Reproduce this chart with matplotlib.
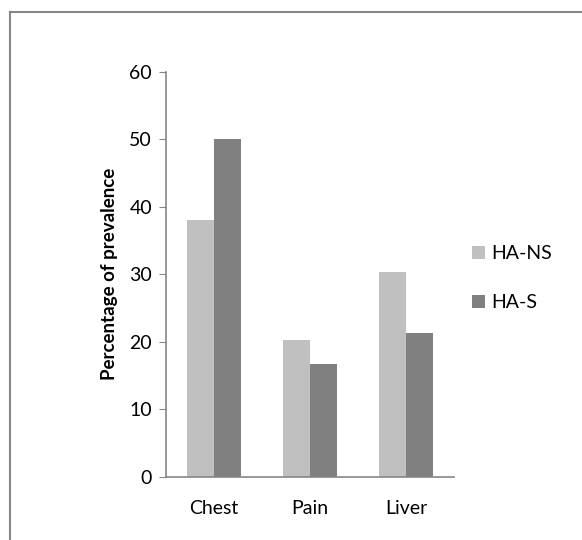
import numpy as np
import matplotlib.pyplot as plt
from matplotlib.lines import Line2D

plt.rcParams['font.family'] = ['Lato', 'DejaVu Sans']

categories = ['Chest', 'Pain', 'Liver']
ha_ns = [38, 20.3, 30.4]
ha_s = [50, 16.7, 21.3]
yticks = [0, 10, 20, 30, 40, 50, 60]

fig = plt.figure(figsize=(5.82, 5.40), dpi=100)
ax = fig.add_axes([166/582, 1 - 476.7/540, 288/582, (476.7 - 71.7)/540])

x = np.arange(len(categories))
w = 0.286
ax.bar(x - w/2, ha_ns, width=w, color='#c0c0c0', label='HA-NS')
ax.bar(x + w/2, ha_s, width=w, color='#808080', label='HA-S')

ax.set_xlim(-0.5, 2.5)
ax.set_ylim(0, 60)
ax.set_yticks(yticks)
ax.set_xticks(x)
ax.set_xticklabels(categories, fontsize=14)
ax.tick_params(axis='y', labelsize=14, length=5, color='#868686', direction='out', pad=5)
ax.tick_params(axis='x', length=0, pad=17)
for s in ['top', 'right']:
    ax.spines[s].set_visible(False)
for s in ['left', 'bottom']:
    ax.spines[s].set_color('#868686')
    ax.spines[s].set_linewidth(1.2)

ax.set_ylabel('Percentage of prevalence', fontsize=13.5, fontweight='bold', labelpad=8)

ax.legend(loc='center left', bbox_to_anchor=(1.0, 0.49), frameon=False, fontsize=14,
          handlelength=0.7, handleheight=0.7, handletextpad=0.3, labelspacing=1.65)

# outer frame: only top and left edges are visible
fig.add_artist(Line2D([9.5/582, 1], [1 - 11.5/540, 1 - 11.5/540], color='#868686', lw=1.5))
fig.add_artist(Line2D([9.5/582, 9.5/582], [0, 1 - 11.5/540], color='#868686', lw=1.5))

fig.savefig('out.png', dpi=100)
